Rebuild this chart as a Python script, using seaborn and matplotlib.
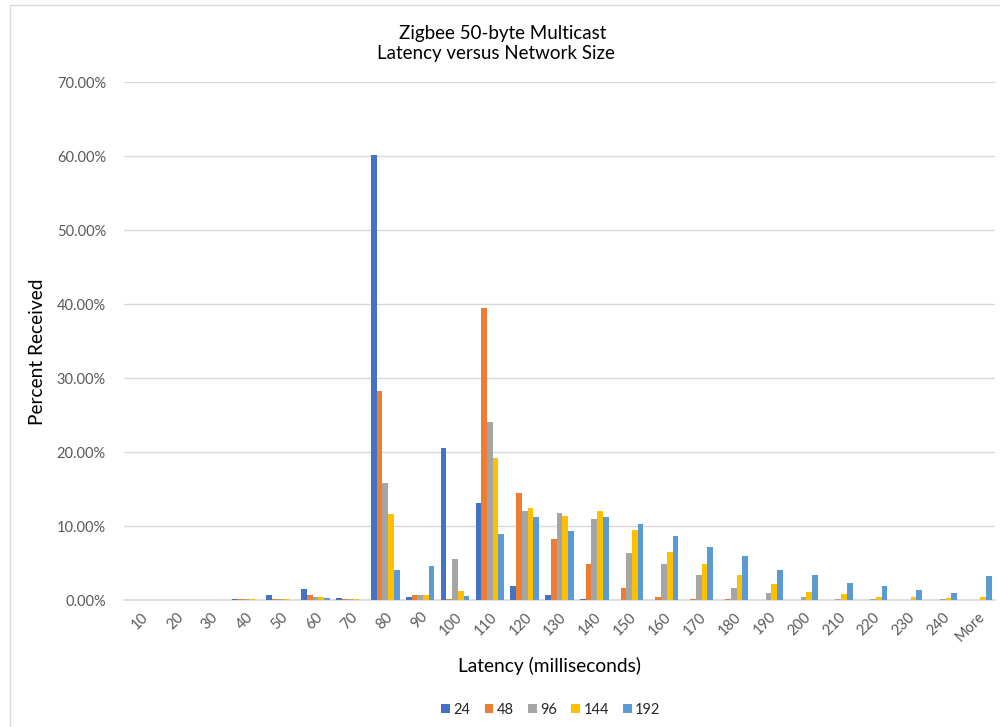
import matplotlib
matplotlib.use("Agg")
import matplotlib.pyplot as plt
import seaborn as sns
import pandas as pd
from matplotlib.ticker import FuncFormatter, MultipleLocator
from matplotlib.lines import Line2D
from matplotlib.patches import Patch

categories = ["10", "20", "30", "40", "50", "60", "70", "80", "90", "100", "110", "120",
              "130", "140", "150", "160", "170", "180", "190", "200", "210", "220", "230",
              "240", "More"]
series_names = ["24", "48", "96", "144", "192"]

# Percent received per latency bin
s24 = [0, 0, 0, 0.15, 0.7, 1.5, 0.3, 60.1, 0.4, 20.5, 13.1, 1.9, 0.7, 0.1, 0, 0, 0, 0, 0, 0, 0, 0, 0, 0, 0]
s48 = [0, 0, 0, 0.15, 0.1, 0.7, 0.15, 28.3, 0.7, 0.2, 39.5, 14.5, 8.3, 4.9, 1.6, 0.4, 0.1, 0.1, 0, 0, 0, 0, 0, 0, 0]
s96 = [0, 0, 0, 0.15, 0.1, 0.4, 0.1, 15.8, 0.7, 5.5, 24.1, 12.0, 11.8, 11.0, 6.4, 4.9, 3.4, 1.6, 1.0, 0.4, 0.1, 0.1, 0, 0.1, 0]
s144 = [0, 0, 0, 0.15, 0.1, 0.4, 0.1, 11.6, 0.7, 1.2, 19.2, 12.5, 11.4, 12.0, 9.5, 6.5, 4.9, 3.4, 2.2, 1.1, 0.8, 0.4, 0.4, 0.3, 0.4]
s192 = [0, 0, 0, 0, 0.05, 0.3, 0.05, 4.1, 4.6, 0.5, 8.9, 11.2, 9.3, 11.2, 10.3, 8.6, 7.1, 5.9, 4.0, 3.4, 2.3, 1.9, 1.4, 1.0, 3.2]

colors = ["#4472C4", "#ED7D31", "#A5A5A5", "#FFC000", "#5B9BD5"]

rows = []
for name, vals in zip(series_names, [s24, s48, s96, s144, s192]):
    for c, v in zip(categories, vals):
        rows.append({"Latency": c, "Size": name, "Percent": v})
df = pd.DataFrame(rows)

sns.set_theme(style="white")
plt.rcParams["font.family"] = ["Lato", "DejaVu Sans"]

fig = plt.figure(figsize=(10, 7.27), dpi=100)
ax = fig.add_axes([0.124, 1 - 600 / 727, 0.995 - 0.124, (600 - 82) / 727])

sns.barplot(data=df, x="Latency", y="Percent", hue="Size", order=categories,
            hue_order=series_names, palette=colors, width=0.82, ax=ax,
            errorbar=None, legend=False, saturation=1, linewidth=0, zorder=3)

ax.set_ylim(0, 70)
ax.set_xlim(-0.5, len(categories) - 0.5)
ax.yaxis.set_major_locator(MultipleLocator(10))
ax.yaxis.set_major_formatter(FuncFormatter(lambda v, p: f"{v:.2f}%"))
ax.grid(axis="y", color="#D9D9D9", linewidth=1, zorder=0)
ax.grid(axis="x", visible=False)
for side in ["left", "right", "top"]:
    ax.spines[side].set_visible(False)
ax.spines["bottom"].set_color("#D9D9D9")
ax.spines["bottom"].set_linewidth(1.2)
ax.tick_params(axis="y", length=0, pad=13, labelsize=10.5, labelcolor="#595959")
ax.tick_params(axis="x", length=0, pad=7, labelsize=10.5, labelcolor="#595959")
plt.setp(ax.get_xticklabels(), rotation=45, ha="right", rotation_mode="anchor")

ax.set_xlabel("Latency (milliseconds)", fontsize=13.8, color="#000000")
ax.xaxis.set_label_coords((549 - 124) / (995 - 124), -(657 - 600) / 518)
ax.set_ylabel("Percent Received", fontsize=13.8, color="#000000")
ax.yaxis.set_label_coords(-(124 - 46) / 871, (600 - 352) / 518)

fig.text(0.5025, 1 - 33 / 727, "Zigbee 50-byte Multicast", ha="center", va="center",
         fontsize=13.5, color="#000000")
fig.text(0.496, 1 - 54 / 727, "Latency versus Network Size", ha="center", va="center",
         fontsize=13.5, color="#000000")

handles = [Patch(facecolor=c, edgecolor="none") for c in colors]
fig.legend(handles, series_names, loc="center", bbox_to_anchor=(551 / 1000, 1 - 710 / 727),
           ncol=5, frameon=False, fontsize=10.5, handlelength=0.6, handleheight=0.6,
           handletextpad=0.25, columnspacing=0.95)

# chart-area border
fig.add_artist(Line2D([9.5 / 1000, 9.5 / 1000], [0, 1 - 5 / 727], transform=fig.transFigure,
                      color="#D9D9D9", linewidth=1))
fig.add_artist(Line2D([9.5 / 1000, 1], [1 - 5 / 727, 1 - 5 / 727], transform=fig.transFigure,
                      color="#D9D9D9", linewidth=1))

fig.savefig("out.png", dpi=100, facecolor="white")
